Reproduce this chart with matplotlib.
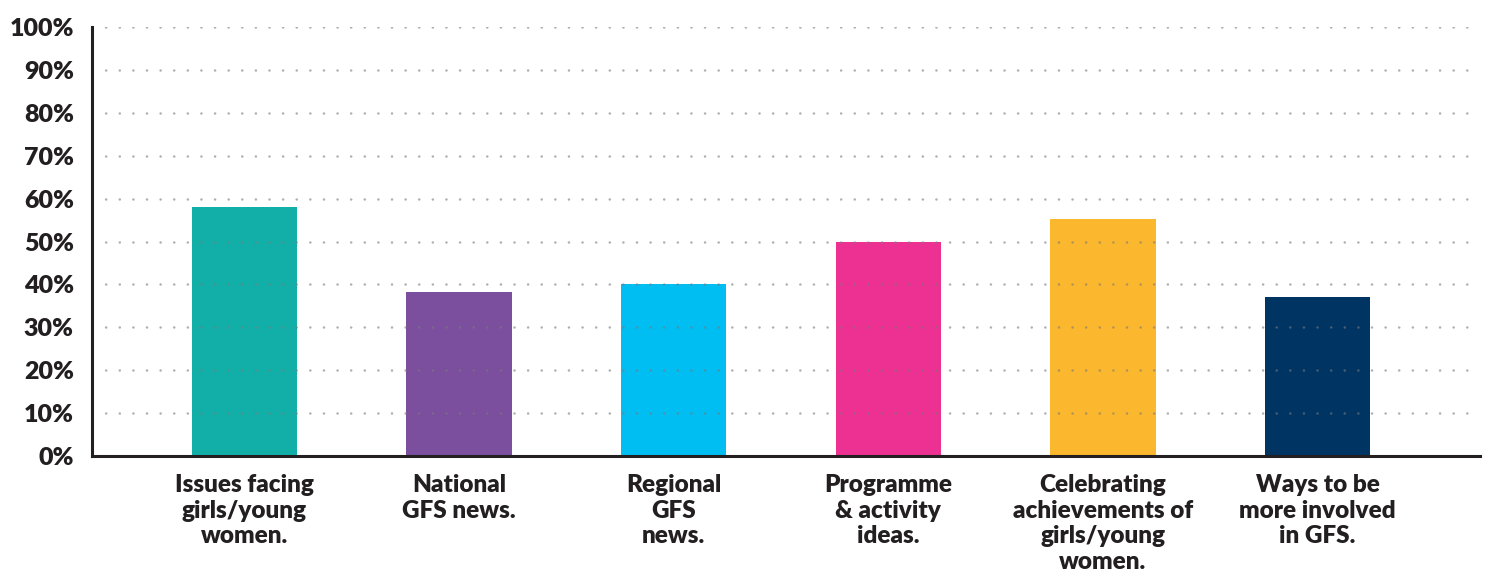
import matplotlib.pyplot as plt

plt.rcParams['font.family'] = ['Lato', 'DejaVu Sans']
plt.rcParams['lines.scale_dashes'] = False

# data
categories = ['Issues facing\ngirls/young\nwomen.',
              'National\nGFS news.',
              'Regional\nGFS\nnews.',
              'Programme\n& activity\nideas.',
              'Celebrating\nachievements of\ngirls/young\nwomen.',
              'Ways to be\nmore involved\nin GFS.']
values = [58, 38.3, 40, 50, 55.2, 37.1]
colors = ['#12AFA9', '#7B4F9D', '#00BDF2', '#EC3192', '#FBB72D', '#003462']
yticks = list(range(0, 101, 10))
ytick_labels = [f'{t}%' for t in yticks]

fig = plt.figure(figsize=(14.91, 5.76), dpi=100)
ax = fig.add_axes([0.0617, 0.2083, 0.931, 0.7447])

x = range(len(categories))
ax.bar(x, values, width=0.49, color=colors, zorder=1)

# dotted gridlines drawn over the bars
for t in yticks[1:]:
    ax.axhline(t, color='#7a7a7a', alpha=0.6, lw=1.8,
               linestyle=(0, (0.1, 9.7)), dash_capstyle='round', zorder=2)

ax.set_xlim(-0.71, 5.757)
ax.set_ylim(0, 100)
ax.set_yticks(yticks)
ax.set_yticklabels(ytick_labels, fontsize=18, fontweight='heavy', color='#231f20')
ax.set_xticks(list(x))
ax.set_xticklabels(categories, fontsize=17.5, fontweight='heavy', color='#231f20',
                   linespacing=1.2, va='top')
ax.tick_params(axis='y', length=0, pad=13)
ax.tick_params(axis='x', length=0, pad=13)

for s in ['top', 'right']:
    ax.spines[s].set_visible(False)
for s in ['left', 'bottom']:
    ax.spines[s].set_color('#231f20')
    ax.spines[s].set_linewidth(2.2)
    ax.spines[s].set_zorder(3)

fig.savefig('out.png', dpi=100)
